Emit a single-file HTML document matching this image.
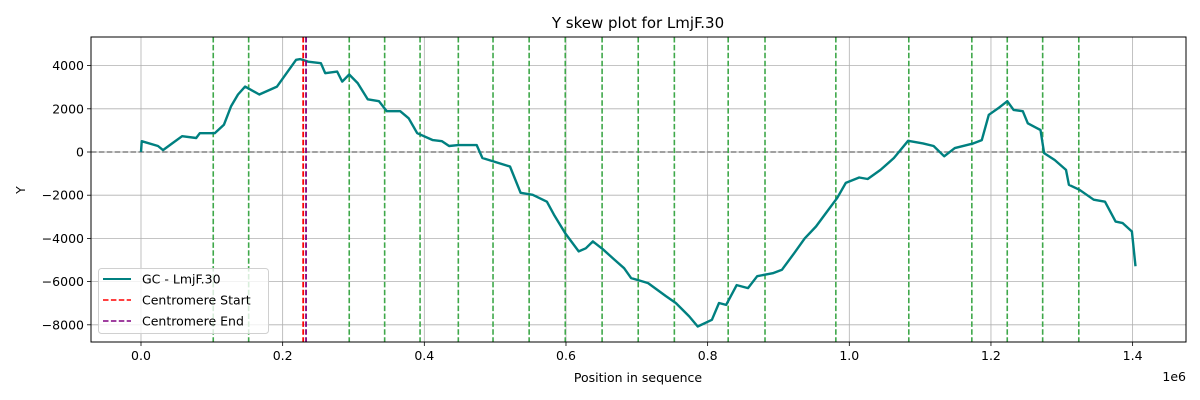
<!DOCTYPE html>
<html><head><meta charset="utf-8"><style>
body{margin:0;background:#fff;}
svg{display:block;font-family:"DejaVu Sans","Liberation Sans",sans-serif;}
</style></head><body>
<svg id="chart" width="1200" height="400" viewBox="0 0 1200 400"></svg>
<script>
const xs = [0,0.001,0.024,0.031,0.044,0.058,0.078,0.083,0.104,0.117,0.127,0.137,0.147,0.167,0.192,0.219,0.225,0.236,0.254,0.26,0.277,0.284,0.294,0.306,0.32,0.336,0.347,0.366,0.378,0.39,0.412,0.425,0.435,0.448,0.474,0.482,0.498,0.521,0.536,0.553,0.573,0.583,0.599,0.618,0.628,0.638,0.652,0.668,0.682,0.692,0.702,0.716,0.741,0.755,0.774,0.786,0.806,0.816,0.826,0.841,0.857,0.87,0.892,0.905,0.922,0.937,0.953,0.967,0.983,0.995,1.014,1.026,1.044,1.063,1.083,1.104,1.119,1.134,1.149,1.175,1.187,1.197,1.21,1.223,1.232,1.245,1.252,1.265,1.27,1.275,1.29,1.306,1.31,1.325,1.345,1.361,1.376,1.386,1.399,1.404];
const ys = [0,500,280,90,400,730,650,870,870,1260,2110,2660,3030,2660,3030,4270,4300,4180,4110,3650,3720,3260,3590,3190,2440,2350,1890,1890,1560,870,550,500,280,320,320,-280,-440,-670,-1890,-1980,-2300,-2900,-3770,-4600,-4460,-4140,-4500,-4970,-5380,-5840,-5930,-6070,-6670,-6990,-7610,-8080,-7770,-6990,-7080,-6160,-6300,-5750,-5610,-5450,-4690,-4000,-3450,-2830,-2120,-1430,-1180,-1250,-830,-280,520,400,280,-200,180,400,550,1720,2020,2350,1950,1890,1330,1100,1020,-50,-370,-830,-1520,-1750,-2210,-2300,-3220,-3290,-3680,-5290];
const greenLines = [0.102,0.152,0.294,0.344,0.394,0.448,0.497,0.548,0.599,0.651,0.702,0.753,0.829,0.881,0.981,1.084,1.173,1.223,1.273,1.324];
const centStart = [0.229];
const centEnd = [0.233];
const xTicks = [0,0.2,0.4,0.6,0.8,1.0,1.2,1.4];
const xTickLabels = ["0.0","0.2","0.4","0.6","0.8","1.0","1.2","1.4"];
const yTicks = [4000,2000,0,-2000,-4000,-6000,-8000];
const yTickLabels = ["4000","2000","0","\u22122000","\u22124000","\u22126000","\u22128000"];

const L=91,R=1186,T=37,B=342;
const X = v => 141 + v*708.3;
const Y = v => 152 - v/2000*43.2;
const svg = document.getElementById('chart');
const NS='http://www.w3.org/2000/svg';
function mk(tag, attrs, parent){const e=document.createElementNS(NS,tag);for(const k in attrs)e.setAttribute(k,attrs[k]);(parent||svg).appendChild(e);return e;}

const grid = mk('g',{});


xTicks.forEach(t=>{const l=mk('line',{x1:X(t),x2:X(t),y1:T,y2:B,stroke:'#b0b0b0','stroke-width':0.8},grid);

});
yTicks.forEach(t=>{const l=mk('line',{x1:L,x2:R,y1:Y(t),y2:Y(t),stroke:'#b0b0b0','stroke-width':0.8},grid);

});

const zl = mk('line',{x1:L,x2:R,y1:Y(0),y2:Y(0),stroke:'#808080','stroke-width':1.5,'stroke-dasharray':'5.5,2.4'});



greenLines.forEach(g=>{const l=mk('line',{x1:X(g),x2:X(g),y1:T,y2:B,stroke:'#3fa84a','stroke-width':1.6,'stroke-dasharray':'5.5,2.4'});

});

const pts = xs.map((x,i)=>X(x).toFixed(1)+','+Y(ys[i]).toFixed(1)).join(' ');
const line = mk('polyline',{points:pts,fill:'none',stroke:'#008080','stroke-width':2.4,'stroke-linejoin':'round'});



centStart.forEach(c=>{const l=mk('line',{x1:X(c),x2:X(c),y1:T,y2:B,stroke:'red','stroke-width':1.8,'stroke-dasharray':'5.5,2.4'});

});
centEnd.forEach(c=>{const l=mk('line',{x1:X(c),x2:X(c),y1:T,y2:B,stroke:'purple','stroke-width':1.8,'stroke-dasharray':'5.5,2.4'});

});

const frame = mk('rect',{x:L,y:T,width:R-L,height:B-T,fill:'none',stroke:'#000','stroke-width':1});



xTicks.forEach((t,i)=>{mk('line',{x1:X(t),x2:X(t),y1:B,y2:B+4,stroke:'#000','stroke-width':0.8});
const tx=mk('text',{x:X(t),y:B+18,'font-size':12.5,'text-anchor':'middle',fill:'#000'});tx.textContent=xTickLabels[i];

});
yTicks.forEach((t,i)=>{mk('line',{x1:L-4,x2:L,y1:Y(t),y2:Y(t),stroke:'#000','stroke-width':0.8});
const tx=mk('text',{x:L-7,y:Y(t)+4.5,'font-size':12.5,'text-anchor':'end',fill:'#000'});tx.textContent=yTickLabels[i];

});
</script>
<svg style="position:absolute;left:0;top:0" width="1200" height="400">
<text x="638" y="28" font-size="15" text-anchor="middle" font-family="DejaVu Sans,Liberation Sans,sans-serif">Y skew plot for LmjF.30</text>
<text x="638" y="382" font-size="12.5" text-anchor="middle" font-family="DejaVu Sans,Liberation Sans,sans-serif">Position in sequence</text>
<text x="1186" y="381" font-size="12.5" text-anchor="end" font-family="DejaVu Sans,Liberation Sans,sans-serif">1e6</text>
<text x="0" y="0" font-size="12.5" text-anchor="middle" transform="translate(25,190) rotate(-90)" font-family="DejaVu Sans,Liberation Sans,sans-serif">Y</text>
<g font-family="DejaVu Sans,Liberation Sans,sans-serif" font-size="12.5">
<rect x="98.5" y="268.5" width="170" height="65" rx="3" fill="#fff" fill-opacity="0.8" stroke="#d0d0d0"/>
<line x1="103" x2="131" y1="279" y2="279" stroke="#008080" stroke-width="2"/>
<text x="142" y="283.5">GC - LmjF.30</text>
<line x1="103" x2="131" y1="300" y2="300" stroke="red" stroke-width="1.5" stroke-dasharray="5.5,2.4"/>
<text x="142" y="304.5">Centromere Start</text>
<line x1="103" x2="131" y1="321" y2="321" stroke="purple" stroke-width="1.5" stroke-dasharray="5.5,2.4"/>
<text x="142" y="325.5">Centromere End</text>
</g>
</svg>
</body></html>
